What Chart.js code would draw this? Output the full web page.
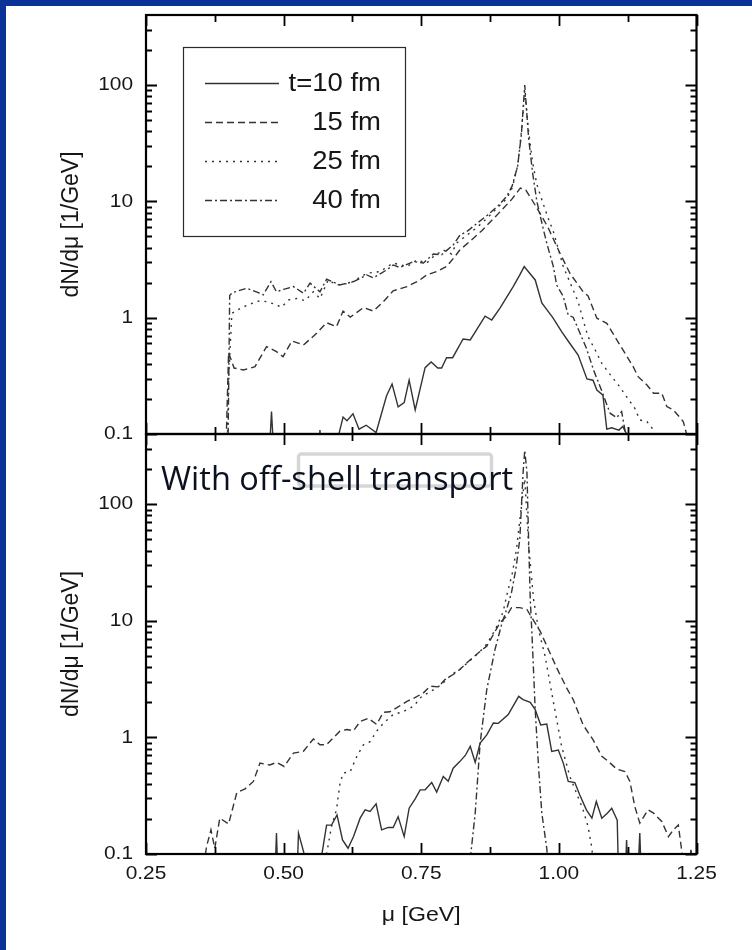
<!DOCTYPE html>
<html>
<head>
<meta charset="utf-8">
<script src="https://cdn.jsdelivr.net/npm/chart.js@4.4.1/dist/chart.umd.min.js"></script>
<style>
  html, body { margin: 0; padding: 0; background: #0b3296; }
  #page { position: relative; width: 752px; height: 950px; overflow: hidden; background: #0b3296; }
  #sheet { position: absolute; left: 6px; top: 6px; right: 0; bottom: 0; background: #ffffff; }
  canvas { position: absolute; left: 0; }
  #topPanel { top: 0; }
  #bottomPanel { top: 428px; }
</style>
</head>
<body>
<div id="page">
  <div id="sheet"></div>
  <canvas id="topPanel" width="752" height="460"></canvas>
  <canvas id="bottomPanel" width="752" height="522"></canvas>
</div>
<script>
// ---------------- data ----------------
const SERIES_LABELS = ['t=10 fm', '15 fm', '25 fm', '40 fm'];
const X_MAJOR = [0.25, 0.5, 0.75, 1.0, 1.25];
const X_MINOR = [0.375, 0.625, 0.875, 1.125];
const X_TICK_LABELS = ['0.25', '0.50', '0.75', '1.00', '1.25'];
const Y_DECADES = [0.1, 1, 10, 100];
const Y_TICK_LABELS = ['0.1', '1', '10', '100'];
const MU_MIN = 0.25, MU_MAX = 1.25;
const DN_MIN = 0.1, DN_MAX = 400;

// upper panel
const topMu10 = [0.470,0.478,0.486,0.560,0.566,0.572,0.598,0.608,0.615,0.626,0.637,0.650,0.668,0.687,0.697,0.708,0.719,0.728,0.739,0.757,0.768,0.780,0.787,0.796,0.807,0.826,0.839,0.866,0.878,0.893,0.917,0.929,0.937,0.957,0.969,0.989,1.005,1.020,1.035,1.051,1.062,1.069,1.080,1.087,1.096,1.109,1.116,1.123,1.128];
const topVal10 = [0.03,0.156,0.03,0.03,0.108,0.03,0.09,0.14,0.13,0.149,0.11,0.119,0.103,0.213,0.269,0.171,0.186,0.291,0.161,0.372,0.416,0.369,0.369,0.453,0.453,0.656,0.643,1.03,0.955,1.21,1.85,2.33,2.75,2.11,1.34,1.0,0.76,0.6,0.478,0.297,0.29,0.239,0.216,0.11,0.113,0.108,0.116,0.1,0.03];

const topMu15 = [0.393,0.400,0.410,0.427,0.448,0.469,0.487,0.499,0.515,0.536,0.560,0.578,0.596,0.608,0.621,0.645,0.663,0.681,0.699,0.724,0.745,0.760,0.778,0.796,0.811,0.820,0.840,0.860,0.880,0.900,0.915,0.930,0.940,0.950,0.965,0.980,1.002,1.020,1.044,1.053,1.069,1.087,1.111,1.135,1.144,1.160,1.172,1.187,1.196,1.208,1.226,1.232,1.236];
const topVal15 = [0.03,0.5,0.369,0.355,0.379,0.564,0.510,0.462,0.631,0.582,0.734,0.906,0.837,1.14,1.01,1.22,1.14,1.37,1.70,1.85,2.07,2.33,2.49,2.75,3.35,3.82,4.6,5.6,7.0,8.8,10.5,13,12.5,10.5,8,6,3.58,2.41,1.67,1.54,0.99,0.895,0.582,0.379,0.311,0.264,0.224,0.224,0.172,0.161,0.128,0.1,0.03];

const topMu25 = [0.396,0.400,0.406,0.421,0.439,0.457,0.470,0.485,0.496,0.509,0.524,0.539,0.554,0.566,0.581,0.596,0.621,0.651,0.675,0.699,0.724,0.742,0.760,0.772,0.790,0.805,0.814,0.830,0.850,0.870,0.890,0.905,0.915,0.925,0.932,0.938,0.945,0.952,0.960,0.970,0.980,0.990,0.996,1.008,1.026,1.035,1.044,1.053,1.066,1.078,1.096,1.108,1.123,1.138,1.147,1.160,1.172,1.180];
const topVal25 = [0.03,0.3,1.09,1.2,1.31,1.40,1.37,1.3,1.23,1.42,1.46,1.40,1.67,1.46,2.11,1.91,1.98,2.41,2.49,2.95,2.75,3.13,2.95,3.35,3.82,3.53,4.37,5.0,5.9,7.2,9.0,10.5,13,20,40,90,40,22,14,10,7.3,5.5,4.37,2.75,1.73,1.37,0.955,0.687,0.527,0.405,0.311,0.264,0.209,0.166,0.132,0.128,0.108,0.03];

const topMu40 = [0.398,0.402,0.407,0.433,0.454,0.463,0.477,0.487,0.500,0.518,0.536,0.548,0.566,0.578,0.602,0.627,0.651,0.663,0.687,0.699,0.711,0.736,0.754,0.772,0.787,0.808,0.820,0.835,0.850,0.870,0.890,0.905,0.915,0.925,0.932,0.938,0.945,0.952,0.960,0.972,0.978,0.990,0.996,1.008,1.017,1.026,1.041,1.050,1.063,1.075,1.084,1.093,1.105,1.114,1.120,1.126];
const topVal40 = [0.03,1.55,1.64,1.79,1.64,1.57,2.04,1.67,1.75,1.85,1.62,1.98,1.67,2.14,1.91,2.04,2.33,2.2,2.57,2.84,2.7,3.03,2.95,3.53,3.47,4.22,5.1,5.6,6.4,7.6,9.2,11,13.5,20,38,100,35,18,10,5.7,4.37,2.75,1.91,1.52,1.05,1.01,0.687,0.545,0.355,0.255,0.196,0.151,0.138,0.156,0.108,0.03];

// lower panel: with off-shell transport
const botMu10 = [0.482,0.487,0.492,0.522,0.527,0.543,0.568,0.578,0.587,0.597,0.607,0.617,0.627,0.639,0.648,0.657,0.668,0.678,0.690,0.699,0.708,0.719,0.728,0.739,0.748,0.757,0.769,0.778,0.790,0.799,0.808,0.820,0.830,0.839,0.848,0.857,0.869,0.881,0.890,0.908,0.927,0.935,0.948,0.957,0.967,0.978,0.987,0.999,1.008,1.017,1.029,1.038,1.050,1.060,1.068,1.078,1.088,1.096,1.106,1.110,1.118,1.123,1.128,1.140,1.147,1.152];
const botVal10 = [0.03,0.151,0.03,0.03,0.151,0.08,0.09,0.177,0.177,0.216,0.132,0.112,0.141,0.203,0.239,0.232,0.269,0.161,0.169,0.169,0.209,0.141,0.247,0.297,0.355,0.355,0.41,0.34,0.462,0.42,0.545,0.62,0.7,0.838,0.61,0.895,1.05,1.33,1.32,1.57,2.25,2.11,2.0,1.73,1.28,1.30,0.759,0.78,0.602,0.419,0.41,0.321,0.239,0.203,0.282,0.203,0.224,0.247,0.195,0.03,0.03,0.132,0.03,0.03,0.151,0.03];

const botMu15 = [0.355,0.360,0.368,0.375,0.384,0.400,0.415,0.430,0.445,0.457,0.475,0.487,0.501,0.518,0.536,0.554,0.566,0.578,0.602,0.615,0.627,0.639,0.654,0.669,0.681,0.693,0.705,0.724,0.736,0.754,0.766,0.781,0.793,0.808,0.820,0.836,0.854,0.869,0.881,0.893,0.905,0.914,0.929,0.942,0.951,0.966,0.981,0.996,1.014,1.026,1.044,1.062,1.078,1.090,1.105,1.120,1.129,1.138,1.147,1.162,1.172,1.187,1.199,1.208,1.217,1.223,1.228,1.236,1.240,1.244];
const botVal15 = [0.08,0.116,0.161,0.112,0.203,0.181,0.336,0.362,0.419,0.602,0.58,0.61,0.563,0.734,0.76,0.97,0.865,0.865,1.13,1.17,1.14,1.37,1.46,1.29,1.64,1.66,1.79,2.04,2.16,2.41,2.75,2.71,3.13,3.46,3.82,4.5,5.32,6.06,7.63,9.63,11.0,12.97,12.97,12.5,10.6,8.15,5.68,3.95,2.66,2.11,1.28,0.955,0.687,0.622,0.535,0.51,0.419,0.255,0.184,0.239,0.224,0.19,0.141,0.161,0.177,0.108,0.06,0.06,0.112,0.06];

const botMu25 = [0.572,0.578,0.587,0.596,0.602,0.608,0.621,0.633,0.645,0.657,0.669,0.681,0.699,0.717,0.736,0.751,0.766,0.787,0.805,0.820,0.835,0.854,0.869,0.885,0.899,0.905,0.915,0.923,0.932,0.938,0.945,0.954,0.963,0.975,0.987,0.996,1.005,1.020,1.032,1.044,1.053,1.060,1.066];
const botVal25 = [0.05,0.1,0.172,0.239,0.392,0.494,0.51,0.687,0.865,0.92,1.13,1.32,1.57,1.66,1.85,2.25,2.46,2.84,3.46,3.82,4.4,5.3,6.3,8.5,12,16.3,25,41,97,165,45,15.3,8.4,4.97,2.41,1.42,0.838,0.462,0.333,0.239,0.172,0.112,0.05];

const botMu40 = [0.836,0.840,0.848,0.857,0.869,0.884,0.896,0.905,0.914,0.922,0.929,0.935,0.938,0.942,0.945,0.948,0.951,0.957,0.963,0.969,0.978,0.984];
const botVal40 = [0.05,0.1,0.224,0.895,2.57,5.68,9.3,12.5,17.5,28,50,188,290,188,50,15.3,7.9,1.73,0.563,0.224,0.112,0.05];

// ---------------- styling ----------------
const LINE_COLOR = '#333333';
const DASHES = [[], [7, 4], [2, 5], [7, 3, 2, 3]];
const TEXT_COLOR = '#161616';
const PLOT_FONT = '"Liberation Sans", Arial, Helvetica, sans-serif';
const X_STRETCH = 1.1;   // plot lettering is set slightly wide

function pairs(mu, val) {
  const n = Math.min(mu.length, val.length);
  const out = [];
  for (let i = 0; i < n; i++) out.push({ x: mu[i], y: val[i] });
  return out;
}

function wideText(ctx, s, x, y, align, size, sx) {
  ctx.save();
  ctx.font = size + 'px ' + PLOT_FONT;
  ctx.fillStyle = TEXT_COLOR;
  ctx.translate(x, y);
  ctx.scale(sx, 1);
  ctx.textAlign = align;
  ctx.textBaseline = 'middle';
  ctx.fillText(s, 0, 0);
  ctx.restore();
}

// frame, inward ticks, tick labels, titles, legend and caption
const panelFrame = {
  id: 'panelFrame',
  afterDatasetsDraw(chart, args, opts) {
    const { ctx, chartArea: a } = chart;
    const xs = chart.scales.x, ys = chart.scales.y;
    ctx.save();
    ctx.strokeStyle = '#000';
    ctx.lineCap = 'butt';

    // ticks
    ctx.lineWidth = 1.8;
    ctx.beginPath();
    const xTick = (v, len) => {
      const p = Math.round(xs.getPixelForValue(v)) + 0.5;
      ctx.moveTo(p, a.top); ctx.lineTo(p, a.top + len);
      ctx.moveTo(p, a.bottom); ctx.lineTo(p, a.bottom - len);
    };
    X_MAJOR.forEach(v => xTick(v, 11));
    X_MINOR.forEach(v => xTick(v, 7));
    const yTick = (v, len) => {
      const p = Math.round(ys.getPixelForValue(v)) + 0.5;
      ctx.moveTo(a.left, p); ctx.lineTo(a.left + len, p);
      ctx.moveTo(a.right, p); ctx.lineTo(a.right - len, p);
    };
    Y_DECADES.forEach(d => {
      yTick(d, 11);
      for (let m = 2; m <= 9; m++) {
        const v = m * d;
        if (v < DN_MAX * 0.97) yTick(v, 6);
      }
    });
    ctx.stroke();

    // frame
    ctx.lineWidth = 2.2;
    ctx.strokeRect(a.left, a.top, a.right - a.left, a.bottom - a.top);
    ctx.restore();

    // y tick labels
    Y_DECADES.forEach((d, i) => {
      wideText(ctx, Y_TICK_LABELS[i], a.left - 13, ys.getPixelForValue(d), 'right', 19, X_STRETCH);
    });

    // y title
    ctx.save();
    ctx.translate(72, (a.top + a.bottom) / 2);
    ctx.rotate(-Math.PI / 2);
    ctx.font = '23px ' + PLOT_FONT;
    ctx.fillStyle = TEXT_COLOR;
    ctx.textAlign = 'center';
    ctx.textBaseline = 'middle';
    ctx.fillText('dN/d\u03bc [1/GeV]', 0, 0);
    ctx.restore();

    if (opts.xLabels) {
      X_MAJOR.forEach((v, i) => {
        wideText(ctx, X_TICK_LABELS[i], xs.getPixelForValue(v), a.bottom + 20, 'center', 19, X_STRETCH);
      });
      wideText(ctx, '\u03bc [GeV]', (a.left + a.right) / 2, a.bottom + 61, 'center', 21, X_STRETCH);
    }

    if (opts.legend) {
      const bx = a.left + 37.5, by = a.top + 32.5, bw = 222, bh = 189;
      ctx.save();
      ctx.strokeStyle = '#2a2a2a';
      ctx.lineWidth = 1.2;
      ctx.strokeRect(bx, by, bw, bh);
      chart.data.datasets.forEach((ds, i) => {
        const ry = a.top + 68.5 + i * 39;
        ctx.beginPath();
        ctx.strokeStyle = ds.borderColor;
        ctx.lineWidth = 1.4;
        ctx.setLineDash(ds.borderDash || []);
        ctx.moveTo(a.left + 59, ry);
        ctx.lineTo(a.left + 133, ry);
        ctx.stroke();
        ctx.setLineDash([]);
        wideText(ctx, ds.label, a.left + 235, ry + 1, 'right', 25, 1.1);
      });
      ctx.restore();
    }

    if (opts.caption) {
      ctx.save();
      ctx.strokeStyle = '#d6d6d6';
      ctx.lineWidth = 3.5;
      ctx.beginPath();
      ctx.roundRect(a.left + 152.5, a.top + 20, 193, 32, 3);
      ctx.stroke();
      ctx.font = '32.6px "Open Sans", "Noto Sans", sans-serif';
      ctx.fillStyle = '#0c1120';
      ctx.textAlign = 'left';
      ctx.textBaseline = 'alphabetic';
      ctx.fillText('With off-shell transport', a.left + 15, a.top + 56);
      ctx.restore();
    }
  }
};

function makeDatasets(series) {
  return series.map((s, i) => ({
    label: SERIES_LABELS[i],
    data: pairs(s[0], s[1]),
    borderColor: LINE_COLOR,
    borderWidth: 1.4,
    borderDash: DASHES[i],
    pointRadius: 0,
    tension: 0,
    fill: false,
    clip: 0
  }));
}

function panel(canvasId, series, padding, frameOpts) {
  return new Chart(document.getElementById(canvasId), {
    type: 'line',
    data: { datasets: makeDatasets(series) },
    options: {
      responsive: false,
      animation: false,
      events: [],
      layout: { padding },
      plugins: {
        legend: { display: false },
        tooltip: { enabled: false },
        panelFrame: frameOpts
      },
      scales: {
        x: { type: 'linear', min: MU_MIN, max: MU_MAX, display: false },
        y: { type: 'logarithmic', min: DN_MIN, max: DN_MAX, display: false }
      }
    },
    plugins: [panelFrame]
  });
}

panel('topPanel',
  [[topMu10, topVal10], [topMu15, topVal15], [topMu25, topVal25], [topMu40, topVal40]],
  { left: 146, right: 55.5, top: 15, bottom: 26 },
  { legend: true, xLabels: false, caption: false });

panel('bottomPanel',
  [[botMu10, botVal10], [botMu15, botVal15], [botMu25, botVal25], [botMu40, botVal40]],
  { left: 146, right: 55.5, top: 6, bottom: 96 },
  { legend: false, xLabels: true, caption: true });
</script>
</body>
</html>
